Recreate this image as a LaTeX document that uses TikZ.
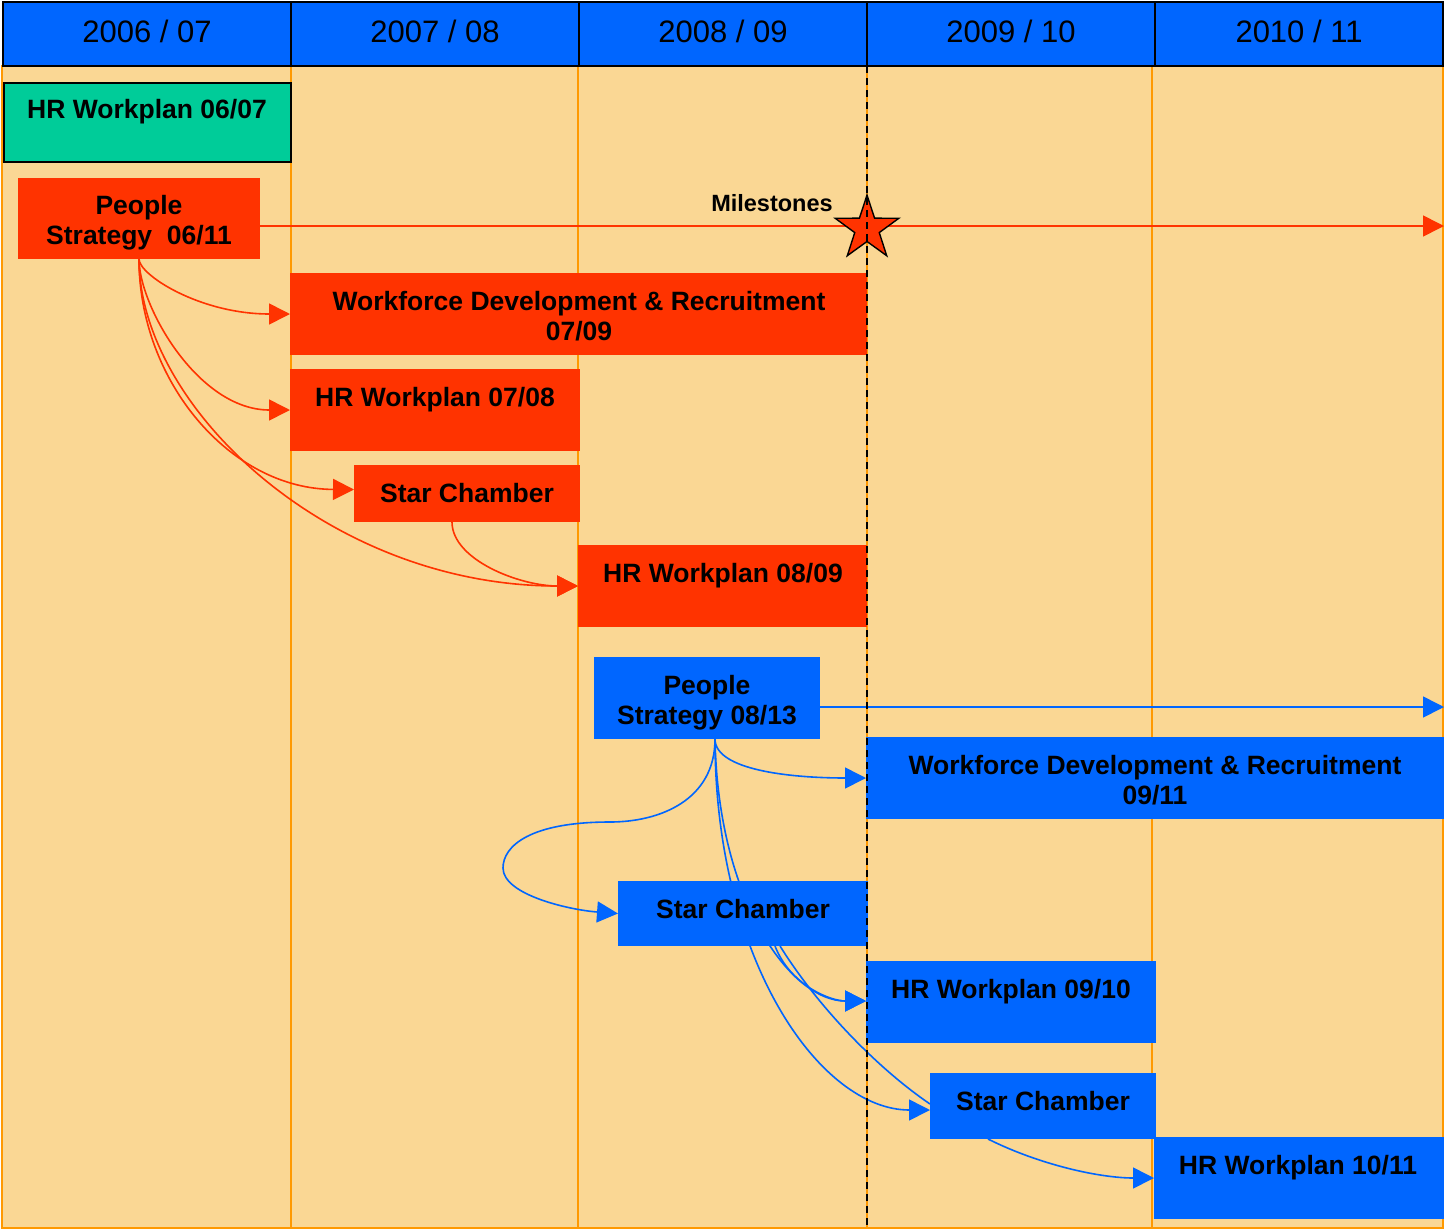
\documentclass[tikz,border=0pt]{standalone}
\usepackage{fontspec}
\setmainfont{Liberation Sans}
\usetikzlibrary{shapes.geometric,arrows.meta,calc}
\definecolor{bgc}{HTML}{FAD794}
\definecolor{colline}{HTML}{FF9900}
\definecolor{hdrc}{HTML}{0066FF}
\definecolor{redc}{HTML}{FF3300}
\definecolor{bluec}{HTML}{0066FF}
\definecolor{greenc}{HTML}{00CC99}
\begin{document}
\begin{tikzpicture}[x=1pt,y=-1pt,
  hdrbox/.style={draw=black, line width=1.8pt, fill=hdrc, minimum width=288pt, minimum height=64pt, inner sep=0pt, font=\fontsize{31}{36}\selectfont, text depth=6pt},
  barbox/.style={inner sep=0pt, outer sep=0pt, anchor=north west},
  redbar/.style={barbox, fill=redc},
  bluebar/.style={barbox, fill=bluec},
  lbl/.style={font=\bfseries\fontsize{26.5}{30}\selectfont, align=center, inner sep=0pt},
  redarrow/.style={draw=redc, line width=1.6pt, -{Triangle[length=21pt,width=21pt]}},
  bluearrow/.style={draw=bluec, line width=1.6pt, -{Triangle[length=21pt,width=21pt]}},
  blueline/.style={draw=bluec, line width=1.6pt},
  colrule/.style={draw=colline, line width=1.8pt}
]
\useasboundingbox (0,0) rectangle (1444,1229);
\fill[white] (0,0) rectangle (1444,1229);
% background and column rules
\fill[bgc] (2,66) rectangle (1443,1228);
\draw[colrule] (2,66) rectangle (1443,1228);
\draw[colrule] (291,66) -- (291,1228);
\draw[colrule] (578,66) -- (578,1228);
\draw[colrule] (867,66) -- (867,1228);
\draw[colrule] (1152,66) -- (1152,1228);

% header
\node[hdrbox] (h1) at (147,34) {2006 / 07};
\node[hdrbox] (h2) at (435,34) {2007 / 08};
\node[hdrbox] (h3) at (723,34) {2008 / 09};
\node[hdrbox] (h4) at (1011,34) {2009 / 10};
\node[hdrbox] (h5) at (1299,34) {2010 / 11};

% box placeholders (filled after the connectors)
\node[barbox, minimum width=287pt, minimum height=79pt] (hr0607) at (4,83) {};
\node[redbar, minimum width=242pt, minimum height=81pt] (ps1) at (18,178) {};
\node[redbar, minimum width=577pt, minimum height=82pt] (wdr1) at (290,273) {};
\node[redbar, minimum width=290pt, minimum height=82pt] (hr0708) at (290,369) {};
\node[redbar, minimum width=226pt, minimum height=57pt] (sc1) at (354,465) {};
\node[redbar, minimum width=289pt, minimum height=82pt] (hr0809) at (578,545) {};
\node[bluebar, minimum width=226pt, minimum height=82pt] (ps2) at (594,657) {};
\node[bluebar, minimum width=578pt, minimum height=82pt] (wdr2) at (866,737) {};
\node[bluebar, minimum width=250pt, minimum height=65pt] (sc2) at (618,881) {};
\node[bluebar, minimum width=290pt, minimum height=82pt] (hr0910) at (866,961) {};
\node[bluebar, minimum width=226pt, minimum height=66pt] (sc3) at (930,1073) {};
\node[bluebar, minimum width=290pt, minimum height=82pt] (hr1011) at (1154,1137) {};

% end coordinates of the long arrows
\coordinate (redend) at (1444,226);
\coordinate (blueend) at (1444,707);

% connectors (behind boxes)
\coordinate (ps1s) at (139,259);
\draw[redarrow] (ps1s) .. controls (139,275) and (200,314) .. (wdr1.west);
\draw[redarrow] (ps1s) .. controls (139,306) and (198,410) .. (hr0708.west);
\draw[redarrow] (ps1s) .. controls (139,381) and (230,489) .. ($(sc1.west)+(0,-4)$);
\draw[redarrow] (ps1s) .. controls (139,407) and (329,586) .. (hr0809.west);
\draw[redarrow] ($(sc1.south)+(-15,0)$) .. controls (452,560) and (520,586) .. (hr0809.west);

\coordinate (ps2s) at (715,739);
\draw[bluearrow] (ps2s) .. controls (715,770) and (790,778) .. (wdr2.west);
\draw[bluearrow] (ps2s) .. controls (715,800) and (660,822) .. (610,822)
   .. controls (530,822) and (503,846) .. (503,868)
   .. controls (503,895) and (570,910) .. (sc2.west);
\draw[bluearrow] (ps2s) .. controls (718,900) and (790,1001) .. ($(hr0910.west)+(0,-1)$);
\draw[bluearrow] (ps2s) .. controls (715,960) and (820,1110) .. ($(sc3.west)+(0,4)$);
\draw[blueline] ($(sc2.south)+(37,0)$) .. controls (820,1010) and (880,1070) .. ($(sc3.west)+(0,-2)$);
\draw[bluearrow] ($(sc2.south)+(32,0)$) .. controls (790,985) and (830,1001) .. ($(hr0910.west)+(0,-1)$);
\draw[bluearrow] ($(sc3.south)+(-55,0)$) .. controls (1040,1165) and (1100,1178) .. (hr1011.west);

\draw[redarrow] ($(ps1.east)+(0,7.5)$) -- (redend);
\draw[bluearrow] ($(ps2.east)+(0,9)$) -- (blueend);

% boxes on top of connectors
\fill[greenc] (hr0607.north west) rectangle (hr0607.south east);
\draw[black, line width=1.8pt] (hr0607.north west) rectangle (hr0607.south east);
\foreach \b/\c in {ps1/redc, wdr1/redc, hr0708/redc, sc1/redc, hr0809/redc, ps2/bluec, wdr2/bluec, sc2/bluec, hr0910/bluec, sc3/bluec, hr1011/bluec}
  \fill[\c] (\b.north west) rectangle (\b.south east);

% milestone star and label
\node[star, star points=5, star point ratio=2.6, minimum size=67pt, inner sep=0pt, draw=black, line width=1.4pt, fill=redc] (star) at (867,228.6) {};
\node[font=\bfseries\fontsize{23.5}{28}\selectfont, inner sep=0pt, anchor=base] (mlbl) at (772,211) {Milestones};

% dashed milestone line
\draw[black, line width=1.8pt, dash pattern=on 7pt off 5pt] (867,66) -- (867,1228);

% labels
\node[lbl, anchor=base] (t0607) at (147,118.5) {HR Workplan 06/07};
\node[lbl] (tps1) at (139,222.8) {People\\Strategy~~06/11};
\node[lbl] (twdr1) at (579,316) {Workforce Development \& Recruitment\\07/09};
\node[lbl, anchor=base] (t0708) at (435,406.5) {HR Workplan 07/08};
\node[lbl, anchor=base] (tsc1) at (467,502.5) {Star Chamber};
\node[lbl, anchor=base] (t0809) at (723,582.5) {HR Workplan 08/09};
\node[lbl] (tps2) at (707,702.8) {People\\Strategy 08/13};
\node[lbl] (twdr2) at (1155,780) {Workforce Development \& Recruitment\\09/11};
\node[lbl, anchor=base] (tsc2) at (743,918.5) {Star Chamber};
\node[lbl, anchor=base] (t0910) at (1011,998.5) {HR Workplan 09/10};
\node[lbl, anchor=base] (tsc3) at (1043,1110.5) {Star Chamber};
\node[lbl, anchor=base] (t1011) at (1298,1174.5) {HR Workplan 10/11};
\end{tikzpicture}
\end{document}
